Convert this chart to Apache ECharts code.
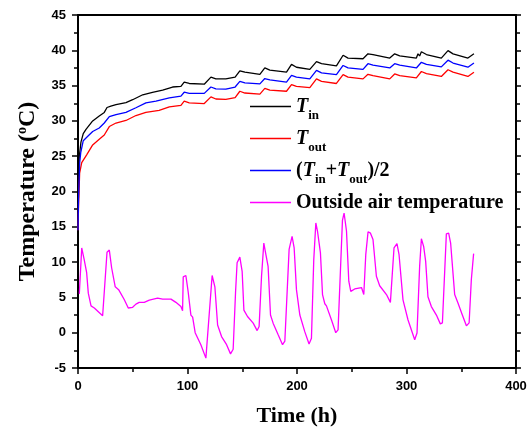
<!DOCTYPE html>
<html>
<head>
<meta charset="utf-8">
<script src="https://cdn.jsdelivr.net/npm/echarts@6/dist/echarts.min.js"></script>
<style>
  html, body { margin: 0; padding: 0; background: #fff; }
  #chart { width: 531px; height: 428px; }
</style>
</head>
<body>
<div id="chart"></div>
<script>
// [time (h), temperature (°C)]
const tIn = [
  [0, 14.5], [0.5, 21], [1.2, 25], [2.7, 27], [4.8, 28.2], [7.3, 28.8], [13.4, 30.0], [19.4, 30.7],
  [24, 31.2], [26.5, 31.9], [30, 32.1], [34.7, 32.3], [43.8, 32.6], [49.9, 33.0], [59.1, 33.7],
  [68, 34.05], [77.3, 34.35], [86.4, 34.8], [94, 34.9], [97, 35.5], [101.6, 35.3], [115.3, 35.2],
  [121.4, 36.2], [125.9, 35.95], [135, 35.95], [143.5, 36.2], [147.8, 37.1], [152.4, 36.9],
  [166.1, 36.6], [170.6, 37.5], [175.2, 37.2], [190.4, 36.9], [195, 38.0], [199.5, 37.6],
  [211.7, 37.3], [217.8, 38.4], [222.4, 38.1], [236, 37.8], [242.1, 39.3], [246.6, 38.9],
  [260.3, 38.8], [264.8, 39.5], [269.4, 39.4], [284.7, 38.9], [289.2, 39.5], [293.8, 39.2],
  [309, 38.9], [310.5, 39.5], [312, 39.2], [313.6, 39.8], [318.2, 39.4], [331.8, 38.9],
  [337.9, 39.95], [342.5, 39.5], [356.1, 38.9], [361.6, 39.5]
];
const tOut = [
  [0, 14.5], [0.5, 18], [1.5, 22.6], [3.4, 24.1], [7.9, 25.2], [13.4, 26.6], [19.4, 27.4],
  [24, 28.0], [28.6, 29.2], [34.7, 29.7], [43.8, 30.06], [52.9, 30.76], [62, 31.2], [74.1, 31.5],
  [83.4, 32.0], [94, 32.2], [97, 32.8], [101.6, 32.56], [115.3, 32.46], [121.4, 33.4],
  [125.9, 33.1], [135, 33.05], [143.5, 33.3], [147.8, 34.2], [152.4, 33.95], [166.1, 33.8],
  [170.6, 34.6], [175.2, 34.35], [190.4, 34.2], [195, 35.15], [199.5, 34.9], [211.7, 34.7],
  [217.8, 35.95], [222.4, 35.6], [236, 35.3], [242.1, 36.55], [246.6, 36.2], [260.3, 35.95],
  [264.8, 36.6], [269.4, 36.4], [284.7, 35.95], [289.2, 36.65], [293.8, 36.4], [309, 36.1],
  [313.6, 37.0], [318.2, 36.7], [331.8, 36.3], [337.9, 37.25], [342.5, 36.9], [356.1, 36.3],
  [361.6, 36.9]
];
const tAvg = [
  [0, 14.5], [0.5, 19], [1.5, 24], [2.5, 25.5], [4.8, 27.2], [9.4, 27.9], [13.4, 28.5],
  [19.4, 29.0], [24, 29.7], [28.6, 30.6], [34.7, 30.9], [43.8, 31.2], [52.9, 31.86], [62, 32.56],
  [71.2, 32.8], [83.4, 33.27], [94, 33.5], [97, 34.06], [101.6, 33.9], [115.3, 33.9],
  [121.4, 34.8], [125.9, 34.55], [135, 34.5], [143.5, 34.8], [147.8, 35.6], [152.4, 35.4],
  [166.1, 35.25], [170.6, 36.0], [175.2, 35.8], [190.4, 35.5], [195, 36.45], [199.5, 36.2],
  [211.7, 35.96], [217.8, 37.15], [222.4, 36.8], [236, 36.55], [242.1, 37.85], [246.6, 37.5],
  [260.3, 37.3], [264.8, 38.1], [269.4, 37.9], [284.7, 37.5], [289.2, 38.1], [293.8, 37.9],
  [309, 37.5], [313.6, 38.3], [318.2, 38.0], [331.8, 37.65], [337.9, 38.6], [342.5, 38.2],
  [356.1, 37.6], [361.6, 38.2]
];
const outside = [
  [1.2, 5.5], [3.4, 12.0], [5.7, 10.3], [7.9, 8.5], [9.4, 5.6], [11.9, 3.8], [14.9, 3.5],
  [22.5, 2.4], [26.5, 11.4], [28.6, 11.7], [30.7, 9.2], [34, 6.5], [37.1, 6.1], [42.2, 4.7],
  [45.9, 3.5], [49.9, 3.6], [52.9, 4.05], [55.9, 4.3], [60.5, 4.3], [65.1, 4.6], [72.7, 4.9],
  [77.3, 4.75], [84.9, 4.75], [89.4, 4.3], [94, 3.7], [95.5, 3.1], [96.1, 7.9], [98.5, 8.1],
  [100.6, 5.8], [103.1, 2.5], [104.7, 2.2], [107, 0.0], [112.2, -1.7], [116.8, -3.6],
  [122.5, 8.1], [125, 6.5], [127.5, 1.1], [131.1, -0.55], [135.7, -1.7], [139.3, -3.0],
  [141.7, -2.35], [143.9, 5.8], [145.3, 9.9], [147.8, 10.7], [149.9, 8.7], [151.5, 3.2],
  [154.8, 2.3], [160, 1.35], [163.6, 0.3], [165.4, 0.87], [167.6, 7.97], [169.7, 12.7],
  [171.3, 11.3], [173.6, 9.4], [175.8, 2.5], [178.2, 1.35], [182.8, -0.3], [186.8, -1.7],
  [188.9, -1.2], [192.8, 11.8], [195.5, 13.65], [197.4, 12.0], [199.5, 6.1], [202.6, 2.5],
  [207.1, 0.15], [211, -1.6], [213.2, -0.8], [215.3, 10.3], [217.2, 15.55], [218.7, 14.4],
  [221.4, 11.3], [223.3, 5.4], [225.4, 4.1], [226.9, 3.8], [231.5, 1.8], [235.4, 0.0],
  [237.5, 0.4], [241.5, 15.9], [243, 16.95], [245.2, 14.4], [247.3, 7.3], [249.1, 5.85],
  [252.7, 6.2], [258.9, 6.4], [261, 5.4], [262.8, 11.05], [264.9, 14.3], [267.1, 14.1],
  [269.4, 13.2], [272.5, 8.0], [275.5, 6.65], [281.7, 5.4], [285.3, 4.3], [288.6, 12.0],
  [291.3, 12.6], [293.2, 11.05], [296.8, 4.65], [301.4, 1.8], [307.5, -1.0], [309.6, -0.05],
  [312, 9.4], [313.6, 13.3], [315.7, 12.2], [317.5, 10.1], [319.6, 5.1], [322.7, 3.7],
  [327.3, 2.5], [330.9, 1.25], [332.8, 1.4], [336.4, 14.0], [338.5, 14.1], [340.3, 12.7],
  [344, 5.4], [347, 4.2], [351, 2.5], [354.7, 0.97], [357.2, 1.4], [359.2, 7.5], [361.3, 11.2]
];

const serif = '"Liberation Serif", "Times New Roman", serif';
const sans = '"Liberation Sans", Arial, sans-serif';

const legendRich = {
  t: { fontFamily: serif, fontSize: 20, fontWeight: 'bold', fontStyle: 'italic', lineHeight: 30, color: '#000' },
  s: { fontFamily: serif, fontSize: 13, fontWeight: 'bold', lineHeight: 12, padding: [18, 0, 0, 0], color: '#000' },
  n: { fontFamily: serif, fontSize: 20, fontWeight: 'bold', lineHeight: 30, color: '#000' }
};
const legendText = {
  'Tin': '{t|T}{s|in}',
  'Tout': '{t|T}{s|out}',
  'Tavg': '{n|(}{t|T}{s|in}{n|+}{t|T}{s|out}{n|)/2}',
  'Outside': '{n|Outside air temperature}{s| }'
};

const chart = echarts.init(document.getElementById('chart'), null, { renderer: 'canvas' });

const lineSeries = (name, data, color) => ({
  name: name,
  type: 'line',
  data: data,
  showSymbol: false,
  symbol: 'none',
  lineStyle: { color: color, width: 1.3 },
  itemStyle: { color: color },
  animation: false
});

chart.setOption({
  animation: false,
  backgroundColor: '#fff',
  grid: { left: 78, right: 15, top: 15, bottom: 60, containLabel: false, outerBoundsMode: 'none' },
  legend: {
    left: 245,
    top: 86,
    orient: 'vertical',
    icon: 'rect',
    itemWidth: 41,
    itemHeight: 1.6,
    itemGap: 1,
    data: ['Tin', 'Tout', 'Tavg', 'Outside'],
    formatter: (name) => legendText[name],
    textStyle: { rich: legendRich }
  },
  xAxis: [{
    type: 'value',
    min: 0, max: 400, interval: 100,
    name: 'Time (h)',
    nameLocation: 'middle',
    nameGap: 37,
    nameTextStyle: { fontFamily: serif, fontSize: 22, fontWeight: 'bold', color: '#000' },
    axisLine: { show: true, onZero: false, lineStyle: { color: '#000', width: 2 } },
    axisTick: { show: true, inside: false, length: 6, lineStyle: { color: '#000', width: 1.5 } },
    minorTick: { show: true, splitNumber: 2, length: 4, lineStyle: { color: '#000', width: 1.5 } },
    splitLine: { show: false },
    axisLabel: { fontFamily: sans, fontSize: 13, fontWeight: 'bold', color: '#000', margin: 12 }
  }, {
    type: 'value',
    position: 'top',
    min: 0, max: 400, interval: 100,
    axisLine: { show: true, onZero: false, lineStyle: { color: '#000', width: 2 } },
    axisTick: { show: false },
    splitLine: { show: false },
    axisLabel: { show: false }
  }],
  yAxis: [{
    type: 'value',
    min: -5, max: 45, interval: 5,
    name: 'Temperature ({sup|o}C)',
    nameLocation: 'middle',
    nameGap: 37,
    nameRotate: 90,
    nameTextStyle: {
      fontFamily: serif, fontSize: 24, fontWeight: 'bold', color: '#000',
      rich: {
        sup: { fontFamily: serif, fontSize: 14, fontWeight: 'bold', color: '#000', padding: [0, 0, 12, 0] }
      }
    },
    axisLine: { show: true, onZero: false, lineStyle: { color: '#000', width: 2 } },
    axisTick: { show: true, inside: false, length: 6, lineStyle: { color: '#000', width: 1.5 } },
    minorTick: { show: true, splitNumber: 2, length: 4, lineStyle: { color: '#000', width: 1.5 } },
    splitLine: { show: false },
    axisLabel: { fontFamily: sans, fontSize: 13, fontWeight: 'bold', color: '#000', margin: 12 }
  }, {
    type: 'value',
    position: 'right',
    min: -5, max: 45, interval: 5,
    axisLine: { show: true, onZero: false, lineStyle: { color: '#000', width: 2 } },
    axisTick: { show: true, inside: false, length: 5, lineStyle: { color: '#000', width: 1.5 } },
    minorTick: { show: true, splitNumber: 2, length: 4, lineStyle: { color: '#000', width: 1.5 } },
    splitLine: { show: false },
    axisLabel: { show: false }
  }],
  series: [
    lineSeries('Tin', tIn, '#000000'),
    lineSeries('Tout', tOut, '#ff0000'),
    lineSeries('Tavg', tAvg, '#0000ff'),
    lineSeries('Outside', outside, '#ff00ff')
  ]
});
</script>
</body>
</html>
